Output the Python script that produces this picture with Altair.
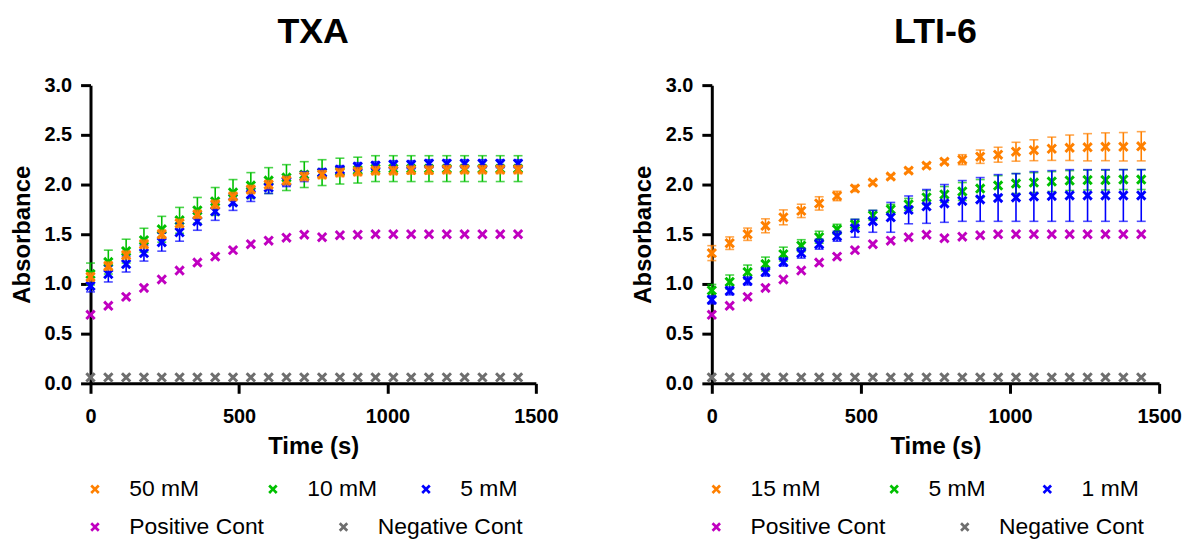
import altair as alt
import pandas as pd

FONT = "Liberation Sans"
XPATH = "M-1,-0.6L-0.6,-1L0,-0.4L0.6,-1L1,-0.6L0.4,0L1,0.6L0.6,1L0,0.4L-0.6,1L-1,0.6L-0.4,0Z"

times = [0, 60, 120, 180, 240, 300, 360, 420, 480, 540, 600, 660, 720,
         780, 840, 900, 960, 1020, 1080, 1140, 1200, 1260, 1320, 1380, 1440]

# ---- TXA panel ----
txa_labels = ["50 mM", "10 mM", "5 mM", "Positive Cont", "Negative Cont"]
txa_50 = [1.07, 1.18, 1.29, 1.40, 1.50, 1.61, 1.70, 1.80, 1.88, 1.95, 2.00, 2.04, 2.08,
          2.10, 2.12, 2.13, 2.14, 2.14, 2.145, 2.145, 2.15, 2.15, 2.15, 2.15, 2.15]
txa_50_sd = [0.04] * 25
txa_10 = [1.10, 1.22, 1.33, 1.44, 1.55, 1.64, 1.74, 1.83, 1.92, 1.99, 2.04, 2.07, 2.10,
          2.12, 2.135, 2.145, 2.16, 2.16, 2.16, 2.16, 2.16, 2.16, 2.16, 2.16, 2.16]
txa_10_sd = [0.11, 0.12, 0.12, 0.12, 0.13, 0.13, 0.13, 0.14, 0.13, 0.13, 0.13, 0.13, 0.13,
             0.13, 0.13, 0.13, 0.13, 0.13, 0.13, 0.13, 0.13, 0.13, 0.13, 0.13, 0.13]
txa_5 = [0.98, 1.10, 1.20, 1.31, 1.42, 1.52, 1.63, 1.73, 1.82, 1.90, 1.97, 2.03, 2.08,
         2.12, 2.15, 2.18, 2.19, 2.20, 2.20, 2.21, 2.21, 2.21, 2.21, 2.21, 2.21]
txa_5_sd = [0.06, 0.08, 0.08, 0.08, 0.09, 0.09, 0.09, 0.09, 0.08, 0.07, 0.06, 0.05, 0.05,
            0.04, 0.04, 0.04, 0.04, 0.04, 0.04, 0.04, 0.04, 0.04, 0.04, 0.04, 0.04]
txa_pos = [0.69, 0.78, 0.87, 0.96, 1.045, 1.135, 1.215, 1.275, 1.34, 1.40, 1.435, 1.465, 1.495,
           1.47, 1.49, 1.495, 1.50, 1.50, 1.50, 1.50, 1.50, 1.50, 1.50, 1.50, 1.50]
txa_neg = [0.06] * 25

# ---- LTI-6 panel ----
lti_labels = ["15 mM", "5 mM", "1 mM", "Positive Cont", "Negative Cont"]
lti_15 = [1.31, 1.41, 1.50, 1.585, 1.67, 1.735, 1.81, 1.885, 1.96, 2.02, 2.08, 2.14, 2.19,
          2.23, 2.25, 2.28, 2.30, 2.33, 2.345, 2.36, 2.37, 2.375, 2.38, 2.38, 2.385]
lti_15_sd = [0.075, 0.063, 0.062, 0.07, 0.075, 0.067, 0.067, 0.047, 0.03, 0.02, 0.02, 0.02, 0.02,
             0.02, 0.05, 0.067, 0.075, 0.095, 0.105, 0.117, 0.128, 0.137, 0.14, 0.143, 0.147]
lti_5 = [0.935, 1.02, 1.12, 1.20, 1.30, 1.385, 1.47, 1.55, 1.60, 1.69, 1.75, 1.80, 1.87,
         1.90, 1.93, 1.96, 1.99, 2.01, 2.02, 2.03, 2.04, 2.045, 2.045, 2.05, 2.05]
lti_5_sd = [0.06, 0.07, 0.07, 0.07, 0.07, 0.06, 0.06, 0.05, 0.05, 0.05, 0.05, 0.06, 0.07,
            0.08, 0.09, 0.09, 0.10, 0.10, 0.10, 0.10, 0.10, 0.10, 0.10, 0.10, 0.10]
lti_1 = [0.84, 0.93, 1.03, 1.12, 1.22, 1.31, 1.40, 1.48, 1.56, 1.63, 1.67, 1.745, 1.78,
         1.81, 1.835, 1.85, 1.865, 1.87, 1.88, 1.885, 1.89, 1.89, 1.89, 1.89, 1.89]
lti_1_sd = [0.04, 0.04, 0.04, 0.04, 0.04, 0.05, 0.05, 0.05, 0.09, 0.11, 0.15, 0.14, 0.17,
            0.19, 0.205, 0.22, 0.235, 0.24, 0.25, 0.255, 0.26, 0.26, 0.26, 0.26, 0.26]
lti_pos = [0.69, 0.78, 0.87, 0.96, 1.045, 1.135, 1.215, 1.275, 1.34, 1.40, 1.435, 1.47, 1.495,
           1.46, 1.475, 1.49, 1.50, 1.50, 1.50, 1.50, 1.50, 1.50, 1.50, 1.50, 1.50]
lti_neg = [0.06] * 25

colors = ["#FF8000", "#00C000", "#0000FF", "#C000C0", "#6E6E6E"]

# legend placements (relative to plot area) : style only
legend_x = [-7, 172, 326, -7, 243]
legend_y = [395, 395, 395, 433, 433]

x_axis = alt.Axis(values=[0, 500, 1000, 1500], format="d", title="Time (s)", labelFlush=False)
y_axis = alt.Axis(values=[0, 0.5, 1.0, 1.5, 2.0, 2.5, 3.0], format=".1f", title="Absorbance",
                  labelFlush=False)
x_scale = alt.Scale(domain=[0, 1500], nice=False, zero=False)
y_scale = alt.Scale(domain=[0, 3], nice=False)


def series_layer(label, color, values, sds, lx, ly):
    df = pd.DataFrame({"t": times, "v": values, "series": label})
    X = alt.X("t:Q", scale=x_scale, axis=x_axis)
    layers = []
    if sds is not None:
        df["lo"] = [v - s for v, s in zip(values, sds)]
        df["hi"] = [v + s for v, s in zip(values, sds)]
        base = alt.Chart(df)
        layers.append(base.mark_rule(color=color, strokeWidth=1.6).encode(
            x=X, y=alt.Y("lo:Q", scale=y_scale, axis=y_axis), y2="hi:Q"))
        for col in ["lo", "hi"]:
            layers.append(base.mark_tick(color=color, orient="horizontal", size=9, thickness=1.6).encode(
                x=X, y=alt.Y(f"{col}:Q", scale=y_scale, axis=y_axis)))
    pts = alt.Chart(df).mark_point(shape=XPATH, filled=True, size=110, opacity=1).encode(
        x=X,
        y=alt.Y("v:Q", scale=y_scale, axis=y_axis),
        color=alt.Color("series:N", scale=alt.Scale(domain=[label], range=[color]),
                        legend=alt.Legend(title=None, orient="none", legendX=lx, legendY=ly,
                                          symbolType=XPATH, symbolSize=90, symbolStrokeWidth=0,
                                          labelFont=FONT, labelFontSize=23, labelColor="black",
                                          labelOffset=23, padding=0)),
    )
    layers.append(pts)
    return alt.layer(*layers)


def panel(title, labels, vals, sds, width):
    order = [4, 3, 1, 2, 0]  # drawing order: neg, pos, green, blue, orange
    layers = [series_layer(labels[i], colors[i], vals[i], sds[i], legend_x[i], legend_y[i]) for i in order]
    return alt.layer(*layers).resolve_scale(color="independent").properties(
        width=width, height=300,
        title=alt.Title(title, fontSize=36, font=FONT, fontWeight="bold", anchor="middle",
                        color="black", offset=24))


left = panel("TXA", txa_labels, [txa_50, txa_10, txa_5, txa_pos, txa_neg],
             [txa_50_sd, txa_10_sd, txa_5_sd, None, None], 448)
right = panel("LTI-6", lti_labels, [lti_15, lti_5, lti_1, lti_pos, lti_neg],
              [lti_15_sd, lti_5_sd, lti_1_sd, None, None], 450)

chart = alt.hconcat(left, right, spacing=177, bounds="flush").resolve_scale(
    color="independent").properties(
    padding={"left": 2, "top": 5, "right": 0, "bottom": 0}
).configure_view(stroke=None).configure_axis(
    grid=False,
    domainColor="black", domainWidth=3,
    tickColor="black", tickWidth=3, tickSize=10,
    labelFont=FONT, labelFontSize=20, labelFontWeight="bold", labelColor="black",
    titleFont=FONT, titleFontSize=24, titleFontWeight="bold", titleColor="black",
).configure_axisX(
    labelPadding=13, titlePadding=9,
).configure_axisY(
    labelPadding=9, titlePadding=10,
)

chart.save("out.html", embed_options={"renderer": "svg", "actions": False})
